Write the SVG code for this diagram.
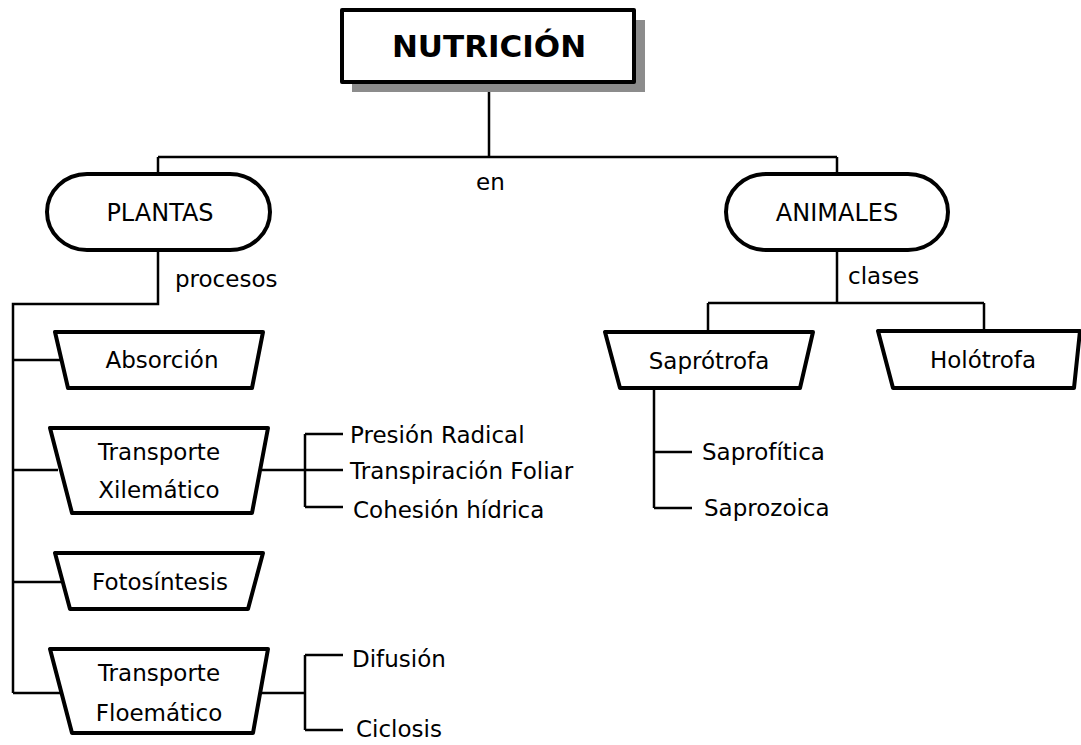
<svg xmlns="http://www.w3.org/2000/svg" width="1081" height="745" viewBox="0 0 1081 745">
  <defs>
    <style>
      .node { fill: #ffffff; stroke: #000000; stroke-width: 4; stroke-linejoin: round; }
      .shadow { fill: #8c8c8c; }
      .link { fill: none; stroke: #000000; stroke-width: 2.5; }
      text { font-family: "DejaVu Sans", "Open Sans", sans-serif; font-size: 23px; fill: #000000; }
      .c { text-anchor: middle; }
      .caps { font-size: 24px; }
      .title { font-size: 31px; font-weight: bold; }
    </style>
  </defs>
  <rect width="1081" height="745" fill="#ffffff"/>

  <!-- connectors -->
  <g id="connectors">
    <path class="link" d="M489 82 V157 M158 157 H837 M158 157 V174 M837 157 V174"/>
    <path class="link" d="M158 250 V304 H13 V693"/>
    <path class="link" d="M13 360 H61 M13 470 H58 M13 582 H61 M13 693 H60"/>
    <path class="link" d="M262 470 H305 M305 434 V507 M305 434 H343 M305 470 H343 M305 507 H343"/>
    <path class="link" d="M260 693 H305 M305 655 V730 M305 655 H343 M305 730 H343"/>
    <path class="link" d="M837 250 V303 M708 303 H984 M708 303 V332 M984 303 V331"/>
    <path class="link" d="M654 388 V508 M654 452 H692 M654 508 H692"/>
  </g>

  <!-- connector labels -->
  <g id="labels">
    <text x="476" y="190">en</text>
    <text x="175" y="287">procesos</text>
    <text x="848" y="284">clases</text>
  </g>

  <g id="nutricion">
    <rect class="shadow" x="352" y="20" width="293" height="72"/>
    <rect class="node" x="342" y="10" width="292" height="72"/>
    <text class="c title" x="489" y="57">NUTRICIÓN</text>
  </g>

  <g id="plantas">
    <rect class="node" x="47" y="174" width="223" height="76" rx="40" ry="38"/>
    <text class="c caps" x="160" y="221">PLANTAS</text>
  </g>

  <g id="animales">
    <rect class="node" x="726" y="174" width="222" height="76" rx="40" ry="38"/>
    <text class="c caps" x="837" y="221">ANIMALES</text>
  </g>

  <g id="absorcion">
    <polygon class="node" points="55,332 263,332 252,388 68,388"/>
    <text class="c" x="162" y="368">Absorción</text>
  </g>

  <g id="transporte-xilematico">
    <polygon class="node" points="50,428 268,428 252,513 72,513"/>
    <text class="c" x="159" y="460">Transporte</text>
    <text class="c" x="159" y="498">Xilemático</text>
  </g>

  <g id="fotosintesis">
    <polygon class="node" points="55,553 263,553 248,609 70,609"/>
    <text class="c" x="160" y="590">Fotosíntesis</text>
  </g>

  <g id="transporte-floematico">
    <polygon class="node" points="50,649 268,649 253,733 72,733"/>
    <text class="c" x="159" y="681">Transporte</text>
    <text class="c" x="159" y="721">Floemático</text>
  </g>

  <g id="xilema-mecanismos">
    <text x="350" y="443">Presión Radical</text>
    <text x="350" y="479">Transpiración Foliar</text>
    <text x="353" y="518">Cohesión hídrica</text>
  </g>

  <g id="floema-mecanismos">
    <text x="352" y="667">Difusión</text>
    <text x="356" y="737">Ciclosis</text>
  </g>

  <g id="saprotrofa">
    <polygon class="node" points="605,332 813,332 800,388 620,388"/>
    <text class="c" x="709" y="369">Saprótrofa</text>
  </g>

  <g id="holotrofa">
    <polygon class="node" points="878,331 1080,331 1074,388 893,388"/>
    <text class="c" x="983" y="368">Holótrofa</text>
  </g>

  <g id="saprotrofa-tipos">
    <text x="702" y="460">Saprofítica</text>
    <text x="704" y="516">Saprozoica</text>
  </g>
</svg>
